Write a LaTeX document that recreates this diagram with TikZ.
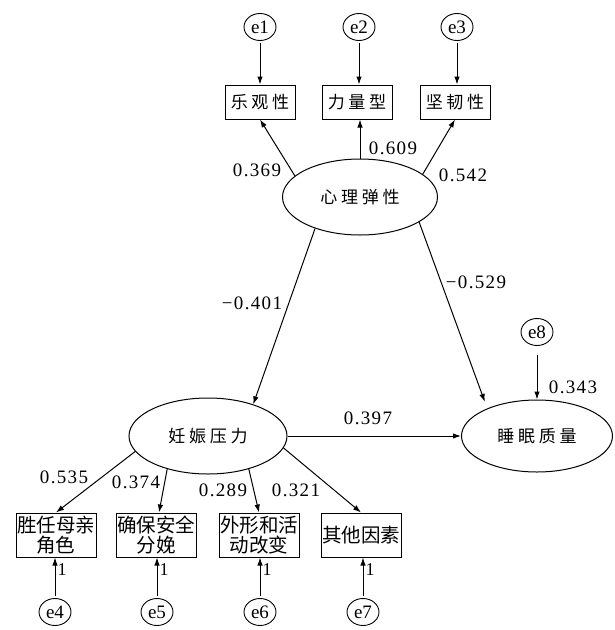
\documentclass[tikz,border=0pt]{standalone}
\usepackage{fontspec}
\usetikzlibrary{shapes.geometric, arrows.meta}
\setmainfont{Liberation Serif}
\newfontfamily\cjkwide[LetterSpace=22]{Noto Sans CJK SC}
\newfontfamily\cjktight{Noto Sans CJK SC}
\newfontfamily\numfont[LetterSpace=7]{Liberation Serif}

\tikzset{
  errnode/.style={ellipse, draw, line width=0.9pt, minimum width=32pt, minimum height=27pt, inner sep=0pt, font=\fontsize{19}{19}\selectfont},
  indbox/.style={rectangle, draw, line width=1pt, minimum width=70pt, minimum height=34pt, inner sep=1pt, font=\cjkwide\fontsize{17}{17}\selectfont},
  subbox/.style={rectangle, draw, line width=1pt, minimum height=44pt, inner sep=1pt, align=center, font=\cjktight\fontsize{19.5}{20}\selectfont},
  latent/.style={ellipse, draw, line width=1pt, minimum width=155pt, minimum height=76pt, inner sep=0pt, font=\cjkwide\fontsize{17}{17}\selectfont},
  link/.style={line width=1pt, -{Latex[length=8pt,width=5.5pt]}},
  coef/.style={font=\numfont\fontsize{19}{19}\selectfont, inner sep=0pt},
  one/.style={font=\fontsize{18}{18}\selectfont, inner sep=2pt}
}

\begin{document}
\begin{tikzpicture}[x=1pt, y=-1pt]
    \useasboundingbox (0,0) rectangle (615,630);

    % Error terms (top)
    \node[errnode] (e1) at (260,27) {e1};
    \node[errnode] (e2) at (359,27) {e2};
    \node[errnode] (e3) at (457,27) {e3};

    % Resilience indicators
    \node[indbox] (lg) at (260,102) {乐观性};
    \node[indbox] (ll) at (357,102) {力量型};
    \node[indbox] (jr) at (455,102) {坚韧性};

    % Latent variables
    \node[latent] (xl) at (360,197) {心理弹性};
    \node[latent, minimum width=158pt] (ys) at (208,436) {妊娠压力};
    \node[latent, minimum width=151pt, minimum height=72pt] (sm) at (537,436) {睡眠质量};
    \node[errnode] (e8) at (537,332) {e8};

    % Stress indicators
    \node[subbox] (b1) at (56,535) {胜任母亲\\角色};
    \node[subbox] (b2) at (156,535) {确保安全\\分娩};
    \node[subbox] (b3) at (259,535) {外形和活\\动改变};
    \node[subbox] (b4) at (361,535) {其他因素};

    % Error terms (bottom)
    \node[errnode] (e4) at (55,612) {e4};
    \node[errnode] (e5) at (157,612) {e5};
    \node[errnode] (e6) at (260,612) {e6};
    \node[errnode] (e7) at (363,612) {e7};

    % Error arrows
    \draw[link, shorten <=2pt] (e1) -- (lg);
    \draw[link, shorten <=2pt] (e2) -- (e2 |- ll.north);
    \draw[link, shorten <=2pt] (e3) -- (e3 |- jr.north);
    \draw[link, shorten <=9pt] (e8) -- (sm);
    \foreach \e/\b in {e4/b1, e5/b2, e6/b3, e7/b4}
        \draw[link, shorten <=2pt] (\e) -- (\e |- \b.south) node[one, pos=0.7, right] {1};

    % Measurement paths
    \draw[link] (xl.162) -- (lg.south);
    \draw[link] (xl.north) -- (xl.north |- ll.south);
    \draw[link] (xl.20) -- (jr.south);
    \draw[link] (ys.192) -- (b1.north);
    \draw[link] (ys.219) -- ([xshift=3pt]b2.north);
    \draw[link] (ys.321) -- (b3.north);
    \draw[link] (ys.351) -- (b4.north);

    % Structural paths
    \draw[link] (xl.215) -- (ys.35);
    \draw[link, shorten >=7pt] (xl.337) -- (sm.151);
    \draw[link] (ys.east) -- (sm.west);

    % Coefficients
    \node[coef] (c1) at (257,170) {0.369};
    \node[coef] (c2) at (393,148) {0.609};
    \node[coef] (c3) at (463,175) {0.542};
    \node[coef] (c4) at (252,303) {−0.401};
    \node[coef] (c5) at (476,282) {−0.529};
    \node[coef] (c6) at (368,418) {0.397};
    \node[coef] (c7) at (573,387) {0.343};
    \node[coef] (c8) at (64,477) {0.535};
    \node[coef] (c9) at (136,482) {0.374};
    \node[coef] (c10) at (223,490) {0.289};
    \node[coef] (c11) at (296,490) {0.321};
\end{tikzpicture}
\end{document}
